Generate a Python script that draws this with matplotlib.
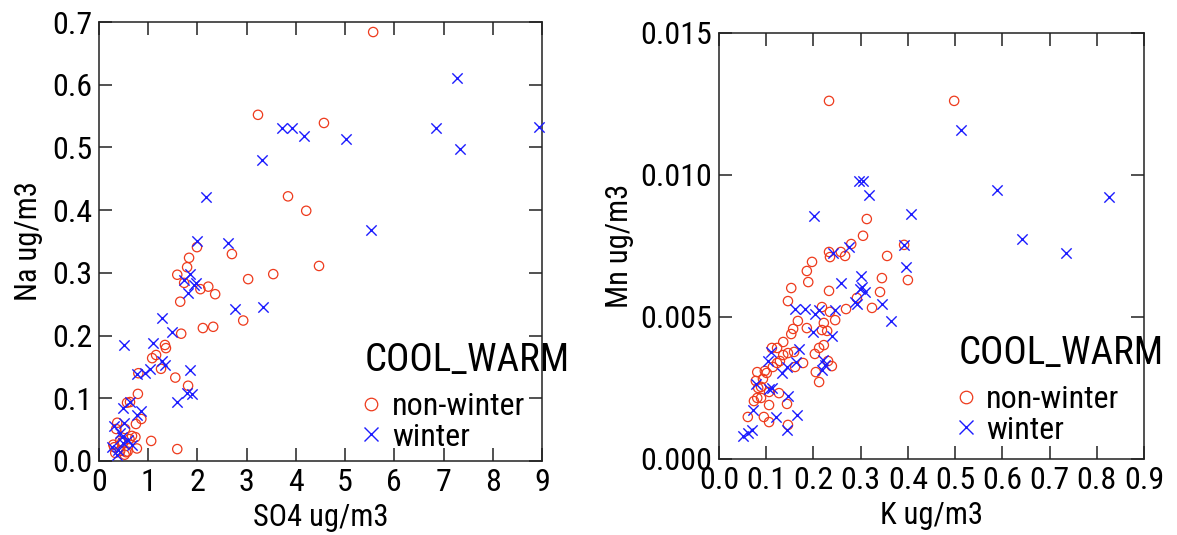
import matplotlib
matplotlib.use("Agg")
import matplotlib.pyplot as plt
from matplotlib import font_manager
from matplotlib.lines import Line2D

names = {f.name for f in font_manager.fontManager.ttflist}
cands = ['Liberation Sans Narrow', 'Roboto Condensed', 'Archivo Narrow', 'Liberation Sans']
fam = [c for c in cands if c in names][:1] + ['DejaVu Sans']
plt.rcParams['font.family'] = fam

# ---- Left panel: SO4 vs Na ----
nw_so4 = [5.57,3.23,4.57,3.84,4.21,1.99,2.70,1.83,1.79,4.47,1.59,3.54,3.03,1.73,2.22,
          2.06,2.36,1.65,2.93,2.11,2.32,1.67,1.34,1.36,1.16,1.08,1.26,0.80,1.55,1.81,
          0.79,0.57,0.63,0.86,0.75,0.37,0.53,0.67,0.74,0.62,1.06,1.59,0.43,0.29,0.49,
          0.33,0.55,0.77,0.43,0.58,0.35,0.31,0.47,0.52]
nw_na = [0.684,0.552,0.539,0.422,0.399,0.341,0.330,0.324,0.309,0.311,0.297,0.298,0.290,0.284,0.278,
         0.274,0.266,0.254,0.224,0.212,0.214,0.203,0.185,0.180,0.169,0.164,0.147,0.140,0.133,0.120,
         0.107,0.093,0.094,0.067,0.059,0.061,0.051,0.040,0.038,0.035,0.032,0.019,0.032,0.026,0.029,
         0.013,0.014,0.020,0.016,0.015,0.051,0.022,0.030,0.010]
w_so4 = [7.28,8.94,6.85,7.34,3.72,3.92,4.17,5.02,3.31,2.17,5.53,1.99,2.62,1.85,1.73,
         1.97,1.93,1.81,2.76,3.33,1.28,1.48,1.10,0.51,1.28,1.34,1.04,0.94,0.77,1.85,
         1.59,1.79,1.89,0.49,0.62,0.85,0.77,0.31,0.51,0.47,0.59,0.67,0.26,0.39,0.37,
         0.49,0.43]
w_na = [0.611,0.533,0.531,0.498,0.531,0.531,0.519,0.514,0.480,0.421,0.369,0.351,0.348,0.298,0.289,
        0.284,0.281,0.268,0.242,0.245,0.228,0.206,0.188,0.185,0.160,0.153,0.146,0.140,0.139,0.145,
        0.094,0.108,0.107,0.084,0.094,0.080,0.073,0.056,0.061,0.038,0.033,0.026,0.022,0.018,0.010,
        0.029,0.045]

# ---- Right panel: K vs Mn ----
nw_k = [0.233,0.498,0.313,0.305,0.280,0.392,0.258,0.267,0.233,0.235,0.356,0.197,0.186,0.189,0.345,
        0.400,0.153,0.233,0.341,0.146,0.292,0.324,0.269,0.218,0.235,0.246,0.167,0.157,0.153,0.186,
        0.218,0.229,0.222,0.136,0.112,0.123,0.136,0.146,0.159,0.129,0.178,0.161,0.212,0.222,0.203,
        0.231,0.239,0.205,0.212,0.097,0.081,0.101,0.114,0.093,0.078,0.083,0.106,0.127,0.081,0.089,
        0.074,0.106,0.144,0.061,0.095,0.106,0.146,0.123,0.089]
nw_mn = [0.01261,0.01261,0.00845,0.00786,0.00757,0.00754,0.00729,0.00715,0.00729,0.00711,0.00715,0.00694,0.00662,0.00623,0.00637,
         0.00630,0.00602,0.00592,0.00588,0.00556,0.00567,0.00532,0.00528,0.00535,0.00518,0.00489,0.00486,0.00458,0.00440,0.00461,
         0.00454,0.00451,0.00479,0.00412,0.00391,0.00391,0.00366,0.00373,0.00377,0.00345,0.00338,0.00324,0.00391,0.00401,0.00370,
         0.00345,0.00327,0.00306,0.00271,0.00310,0.00306,0.00303,0.00324,0.00282,0.00275,0.00250,0.00236,0.00232,0.00215,0.00215,
         0.00204,0.00190,0.00194,0.00148,0.00148,0.00130,0.00120,0.00338,0.00254]
w_k = [0.513,0.297,0.305,0.318,0.201,0.407,0.589,0.826,0.642,0.735,0.392,0.275,0.242,0.396,0.301,
       0.258,0.303,0.299,0.309,0.288,0.292,0.345,0.364,0.161,0.182,0.203,0.212,0.246,0.199,0.239,
       0.169,0.163,0.144,0.133,0.110,0.104,0.220,0.225,0.218,0.112,0.106,0.078,0.146,0.121,0.165,
       0.072,0.144,0.051,0.061,0.070]
w_mn = [0.01158,0.00979,0.00979,0.00930,0.00856,0.00863,0.00947,0.00923,0.00775,0.00726,0.00754,0.00746,0.00726,0.00676,0.00644,
        0.00620,0.00606,0.00599,0.00588,0.00553,0.00546,0.00546,0.00486,0.00528,0.00528,0.00511,0.00525,0.00525,0.00447,0.00433,
        0.00387,0.00342,0.00324,0.00303,0.00377,0.00345,0.00349,0.00331,0.00313,0.00250,0.00246,0.00264,0.00222,0.00148,0.00155,
        0.00173,0.00102,0.00081,0.00092,0.00102]

left_xticks = list(range(0, 10))
left_yticks = [0.0, 0.1, 0.2, 0.3, 0.4, 0.5, 0.6, 0.7]
right_xticks = [0.0, 0.1, 0.2, 0.3, 0.4, 0.5, 0.6, 0.7, 0.8, 0.9]
right_yticks = [0.000, 0.005, 0.010, 0.015]
legend_title = "COOL_WARM"
group_labels = ["non-winter", "winter"]

RED = '#ee3a1c'
BLUE = '#1c1cff'

fig = plt.figure(figsize=(11.77, 5.35), dpi=100)
ax1 = fig.add_axes([99/1177, 1-461/535, (542-99)/1177, (461-22)/535])
ax2 = fig.add_axes([719/1177, 1-459/535, (1144-719)/1177, (459-33)/535])

def style(ax):
    for s in ax.spines.values():
        s.set_linewidth(1.1)
        s.set_color('#222222')
    ax.tick_params(direction='in', length=9.5, width=1.1, top=True, right=True,
                   labelsize=23, pad=5, colors='#222222', labelcolor='black')

# left
ax1.scatter(nw_so4, nw_na, s=45, facecolors='none', edgecolors=RED, linewidths=0.9, marker='o', clip_on=False, zorder=3)
ax1.scatter(w_so4, w_na, s=55, c=BLUE, linewidths=1.0, marker='x', clip_on=False, zorder=3)
ax1.set_xlim(0, 9)
ax1.set_ylim(0, 0.7)
ax1.set_xticks(left_xticks)
ax1.set_xticklabels([str(t) for t in left_xticks])
ax1.set_yticks(left_yticks)
ax1.set_yticklabels([f"{t:.1f}" for t in left_yticks])
ax1.set_xlabel("SO4 ug/m3", fontsize=22, labelpad=4)
ax1.set_ylabel("Na ug/m3", fontsize=22, labelpad=6)
style(ax1)

# right
ax2.scatter(nw_k, nw_mn, s=45, facecolors='none', edgecolors=RED, linewidths=0.9, marker='o', clip_on=False, zorder=3)
ax2.scatter(w_k, w_mn, s=55, c=BLUE, linewidths=1.0, marker='x', clip_on=False, zorder=3)
ax2.set_xlim(0, 0.9)
ax2.set_ylim(0, 0.015)
ax2.set_xticks(right_xticks)
ax2.set_xticklabels([f"{t:.1f}" for t in right_xticks])
ax2.set_yticks(right_yticks)
ax2.set_yticklabels([f"{t:.3f}" for t in right_yticks])
ax2.set_xlabel("K ug/m3", fontsize=22, labelpad=4)
ax2.set_ylabel("Mn ug/m3", fontsize=22, labelpad=4)
style(ax2)

handles = [Line2D([], [], ls='none', marker='o', mfc='none', mec=RED, ms=9, mew=0.9),
           Line2D([], [], ls='none', marker='x', color=BLUE, ms=10, mew=1.0)]

for ax, anchor in [(ax1, (0.6, 0.27)), (ax2, (0.565, 0.29))]:
    leg = ax.legend(handles, group_labels, title=legend_title, loc='upper left',
                    bbox_to_anchor=anchor, frameon=False, fontsize=23, title_fontsize=28,
                    alignment='left', handlelength=0.4, handletextpad=0.45,
                    labelspacing=0.05, borderaxespad=0, borderpad=0)
    leg._legend_box.sep = 9

fig.savefig("out.png", dpi=100)
